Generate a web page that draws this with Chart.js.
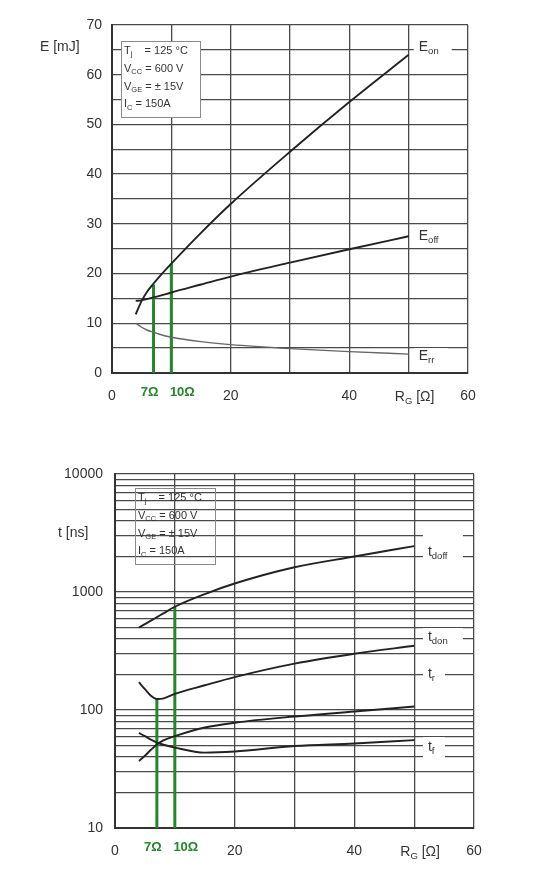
<!DOCTYPE html>
<html>
<head>
<meta charset="utf-8">
<script src="https://cdn.jsdelivr.net/npm/chart.js@4.4.1/dist/chart.umd.min.js"></script>
<style>
  html, body { margin: 0; padding: 0; background: #fff; }
  .wrap { position: absolute; left: 0; width: 534px; }
  #topWrap { top: 0; height: 420px; }
  #botWrap { top: 440px; height: 434px; }
</style>
</head>
<body>
<div class="wrap" id="topWrap"><canvas id="eChart"></canvas></div>
<div class="wrap" id="botWrap"><canvas id="tChart"></canvas></div>
<script>
// gate resistance RG [Ω]
const rg = [4, 5, 6, 7, 8, 10, 15, 20, 30, 40, 50];

// switching energy [mJ]
const eOn  = [11.8, 14.5, 16.5, 18.0, 19.4, 22.0, 28.2, 34.0, 44.5, 54.5, 64.0];
const eOff = [14.5, 14.6, 14.9, 15.2, 15.5, 16.2, 17.8, 19.4, 22.2, 24.9, 27.5];
const eRr  = [10.0, 9.2, 8.6, 8.2, 7.8, 7.2, 6.3, 5.7, 4.9, 4.3, 3.8];

// switching times [ns]
const tDoff = [500, 535, 572, 612, 655, 750, 960, 1180, 1620, 2000, 2450];
const tDon  = [172, 150, 132, 124, 125, 137, 162, 190, 247, 300, 350];
const tR    = [37, 41, 46, 51, 55, 60, 71, 78, 88, 97, 107];
const tF    = [64, 60, 56, 53, 51, 48, 43.5, 44.5, 49.5, 52, 55.5];

// marked operating points (green lines)
const markRg = [7, 10];
const markE  = [17.8, 22];
const markT  = [124, 750];

// tick labels
const xTickLabels = [0, 20, 40, 60];
const eTickLabels = [0, 10, 20, 30, 40, 50, 60, 70];
const tTickLabels = [10, 100, 1000, 10000];
const tDecades = [10, 100, 1000];
const tMultiples = [1, 2, 3, 4, 5, 6, 7, 8, 9];

const FONT = '"Liberation Sans", Arial, sans-serif';
const GREEN = '#23882a';

function rich(ctx, parts, x, y, size, align) {
  let w = 0;
  parts.forEach(([s, sub]) => {
    ctx.font = (sub ? size * 0.68 : size) + 'px ' + FONT;
    w += ctx.measureText(s).width;
  });
  let cx = align === 'center' ? x - w / 2 : x;
  parts.forEach(([s, sub]) => {
    ctx.font = (sub ? size * 0.68 : size) + 'px ' + FONT;
    ctx.fillText(s, cx, y + (sub ? size * 0.3 : 0));
    cx += ctx.measureText(s).width;
  });
  return w;
}

const decor = {
  id: 'decor',
  afterDatasetsDraw(chart, args, o) {
    const { ctx, chartArea: a, scales: { x, y } } = chart;
    ctx.save();
    ctx.textBaseline = 'middle';
    ctx.textAlign = 'left';

    // curve names on the right
    o.names.forEach(n => {
      const px = x.getPixelForValue(n.x), py = y.getPixelForValue(n.y);
      ctx.fillStyle = '#fff';
      ctx.fillRect(px - 5, py - n.h / 2, n.w, n.h);
      ctx.fillStyle = '#333';
      rich(ctx, n.parts, px, py - 1, 14);
    });

    // conditions box
    const b = o.box;
    if (b.fill) {
      ctx.fillStyle = '#fff';
      ctx.fillRect(a.left + b.dx, a.top + b.dy, b.w, b.h);
    }
    ctx.strokeStyle = '#8a8a8a';
    ctx.lineWidth = 1;
    ctx.strokeRect(a.left + b.dx + 0.5, a.top + b.dy + 0.5, b.w, b.h);
    ctx.fillStyle = '#333';
    const lines = [
      [['T'], ['j', 1], ['    = 125 °C']],
      [['V'], ['CC', 1], [' = 600 V']],
      [['V'], ['GE', 1], [' = ± 15V']],
      [['I'], ['C', 1], [' = 150A']]
    ];
    lines.forEach((p, i) => rich(ctx, p, a.left + b.dx + 3, a.top + b.dy + 10 + i * 17.8, 11));
    ctx.restore();
  },
  afterDraw(chart, args, o) {
    const { ctx, chartArea: a, scales: { x } } = chart;
    ctx.save();
    ctx.textBaseline = 'middle';
    // green resistor labels, nudged apart like the original
    ctx.fillStyle = GREEN;
    ctx.font = 'bold 13px ' + FONT;
    ctx.textAlign = 'center';
    const nudge = [-4, 11];
    markRg.forEach((r, i) => ctx.fillText(r + 'Ω', x.getPixelForValue(r) + nudge[i], a.bottom + 19));
    // axis titles
    ctx.fillStyle = '#333';
    ctx.textAlign = 'left';
    rich(ctx, [['R'], ['G', 1], [' [Ω]']], x.getPixelForValue(51), a.bottom + 24, 14, 'center');
    ctx.font = '14px ' + FONT;
    ctx.fillText(o.yTitle, o.yTitleX, o.yTitleY);
    ctx.restore();
  }
};

function curve(vals, color, width) {
  return {
    data: rg.map((r, i) => ({ x: r, y: vals[i] })),
    borderColor: color, borderWidth: width,
    pointRadius: 0, cubicInterpolationMode: 'monotone', fill: false
  };
}
function marker(r, top, base) {
  return {
    data: [{ x: r, y: base }, { x: r, y: top }],
    borderColor: GREEN, borderWidth: 3, pointRadius: 0, tension: 0, fill: false
  };
}

const gridStyle = { color: '#4a4a4a', lineWidth: 1.3, drawTicks: false };
const borderStyle = { color: '#333', width: 2 };
const tickFont = { family: FONT, size: 14 };

function xAxis(h) {
  return {
    type: 'linear', min: 0, max: 60,
    grid: gridStyle, border: borderStyle,
    ticks: {
      stepSize: 10, padding: 15, color: '#333', font: tickFont, maxRotation: 0,
      callback: v => xTickLabels.includes(v) ? String(v) : ''
    },
    afterFit: s => { s.height = h; }
  };
}

// energy chart
new Chart(document.getElementById('eChart'), {
  type: 'line',
  data: {
    datasets: [
      curve(eOn, '#222', 1.9),
      curve(eOff, '#222', 1.9),
      curve(eRr, '#666', 1.4),
      marker(markRg[0], markE[0], 0),
      marker(markRg[1], markE[1], 0)
    ]
  },
  options: {
    responsive: true, maintainAspectRatio: false, animation: false,
    layout: { padding: { top: 25, right: 66, left: 0, bottom: 0 } },
    scales: {
      x: xAxis(47),
      y: {
        type: 'linear', min: 0, max: 70,
        grid: gridStyle, border: borderStyle,
        ticks: {
          stepSize: 5, padding: 10, color: '#333', font: tickFont,
          callback: v => eTickLabels.includes(v) ? String(v) : ''
        },
        afterFit: s => { s.width = 112; }
      }
    },
    plugins: {
      legend: { display: false }, tooltip: { enabled: false },
      decor: {
        yTitle: 'E [mJ]', yTitleX: 40, yTitleY: 47,
        box: { dx: 9, dy: 16, w: 79, h: 76, fill: true },
        names: [
          { x: 51.7, y: 65.4, w: 38, h: 18, parts: [['E'], ['on', 1]] },
          { x: 51.7, y: 27.4, w: 38, h: 22, parts: [['E'], ['off', 1]] },
          { x: 51.7, y: 3.2, w: 34, h: 18, parts: [['E'], ['rr', 1]] }
        ]
      }
    }
  },
  plugins: [decor]
});

// time chart
const tGrid = [];
tDecades.forEach(d => tMultiples.forEach(m => tGrid.push(d * m)));
tGrid.push(10000);

new Chart(document.getElementById('tChart'), {
  type: 'line',
  data: {
    datasets: [
      curve(tDoff, '#222', 1.9),
      curve(tDon, '#222', 1.9),
      curve(tR, '#222', 1.9),
      curve(tF, '#222', 1.9),
      marker(markRg[0], markT[0], 10),
      marker(markRg[1], markT[1], 10)
    ]
  },
  options: {
    responsive: true, maintainAspectRatio: false, animation: false,
    layout: { padding: { top: 34, right: 60, left: 0, bottom: 0 } },
    scales: {
      x: xAxis(46),
      y: {
        type: 'logarithmic', min: 10, max: 10000,
        grid: gridStyle, border: borderStyle,
        afterBuildTicks: s => { s.ticks = tGrid.map(v => ({ value: v })); },
        ticks: {
          padding: 12, color: '#333', font: tickFont, autoSkip: false,
          callback: v => tTickLabels.includes(v) ? String(v) : ''
        },
        afterFit: s => { s.width = 115; }
      }
    },
    plugins: {
      legend: { display: false }, tooltip: { enabled: false },
      decor: {
        yTitle: 't [ns]', yTitleX: 58, yTitleY: 93,
        box: { dx: 20, dy: 14, w: 80, h: 76, fill: false },
        names: [
          { x: 52.3, y: 2140, w: 40, h: 40, parts: [['t'], ['doff', 1]] },
          { x: 52.3, y: 407, w: 40, h: 20, parts: [['t'], ['don', 1]] },
          { x: 52.3, y: 198, w: 22, h: 20, parts: [['t'], ['r', 1]] },
          { x: 52.3, y: 47.6, w: 22, h: 22, parts: [['t'], ['f', 1]] }
        ]
      }
    }
  },
  plugins: [decor]
});
</script>
</body>
</html>
